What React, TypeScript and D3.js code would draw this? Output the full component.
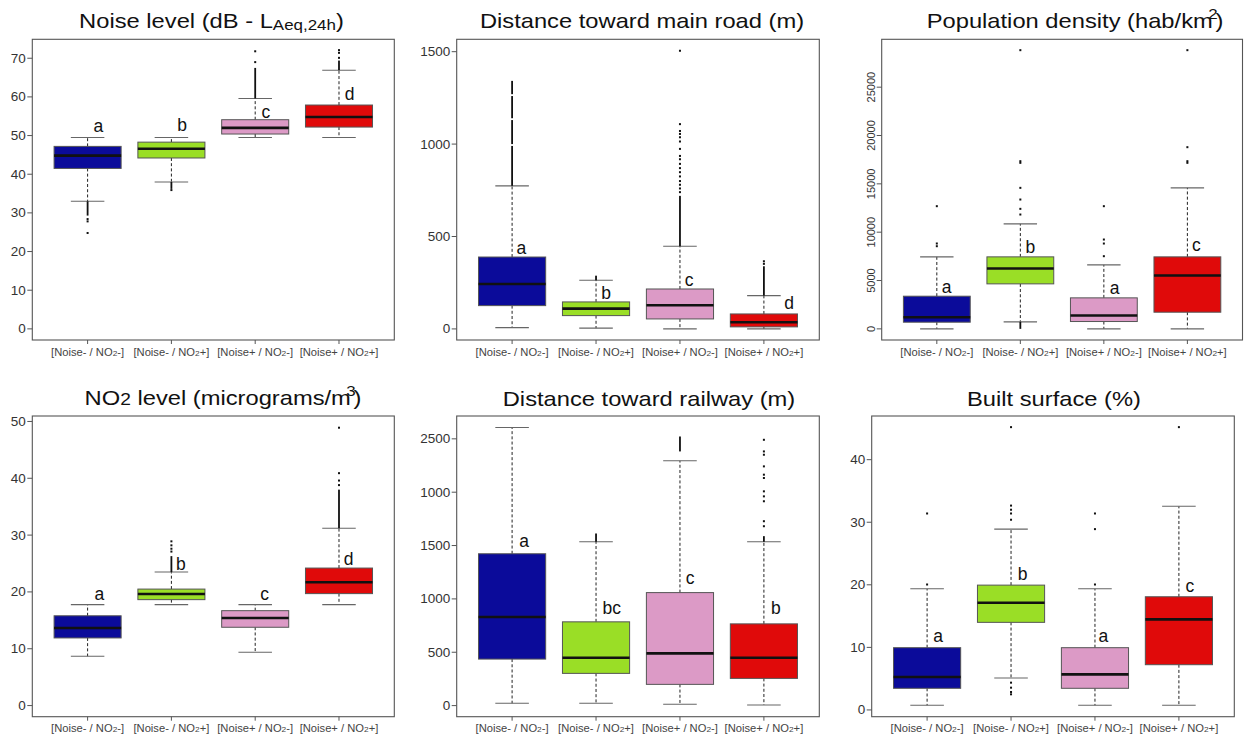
import React from "react";
import * as d3 from "d3";

// ---------- DATA ----------
const groups = ["[Noise- / NO2-]", "[Noise- / NO2+]", "[Noise+ / NO2-]", "[Noise+ / NO2+]"];
const groupColors = ["#0b0b9a", "#9ade26", "#dc9ac6", "#e00a0a"];

// stats per group: [lower whisker, Q1, median, Q3, upper whisker]
const noiseStats = [
  [33.0, 41.5, 44.8, 47.2, 49.5],
  [38.0, 44.2, 46.6, 48.3, 49.5],
  [49.5, 50.4, 52.0, 54.1, 59.6],
  [49.5, 52.2, 54.8, 57.9, 66.9],
];
const noiseOutliers = [[28.4, 27.8, 24.8], [35.9], [69.0, 71.8], [70.1, 71.4, 72.1]];
const noiseOutlierRuns = [[[29.3, 33.0]], [[36.2, 38.0]], [[59.6, 67.5]], [[66.9, 69.4]]];
const noiseLetters = ["a", "b", "c", "d"];
const noiseLetterY = [52.6, 52.8, 56.1, 60.8];
const noiseTicks = [0, 10, 20, 30, 40, 50, 60, 70];

const roadStats = [
  [7, 126, 243, 389, 774],
  [4, 72, 110, 146, 263],
  [0, 54, 128, 216, 447],
  [0, 11, 36, 81, 180],
];
const roadOutliers = [
  [],
  [],
  [1505, 1108, 1071, 1055, 1037, 1014, 974, 936, 918, 893, 870, 848, 825, 800, 780, 760, 740],
  [352, 366],
];
const roadOutlierRuns = [
  [[774, 990], [1000, 1130], [1140, 1260], [1270, 1342]],
  [[263, 288]],
  [[447, 720]],
  [[180, 339]],
];
const roadLetters = ["a", "b", "c", "d"];
const roadLetterY = [438, 194, 267, 140];
const roadTicks = [0, 500, 1000, 1500];

const popStats = [
  [0, 690, 1207, 3379, 7448],
  [724, 4655, 6241, 7448, 10862],
  [0, 759, 1379, 3207, 6621],
  [0, 1724, 5517, 7448, 14586],
];
const popOutliers = [
  [8550, 8830, 12690],
  [11828, 12414, 13379, 14586, 17172, 17345, 28828],
  [7517, 8828, 9241, 12690],
  [17172, 17345, 18793, 28828],
];
const popOutlierRuns = [[], [[0, 724]], [], []];
const popLetters = ["a", "b", "a", "c"];
const popLetterY = [4345, 8483, 4241, 8655];
const popTicks = [0, 5000, 10000, 15000, 20000, 25000];

const no2Stats = [
  [8.68, 11.9, 13.66, 15.8, 17.76],
  [17.76, 18.64, 19.64, 20.5, 23.5],
  [9.38, 13.78, 15.42, 16.7, 17.76],
  [17.76, 19.7, 21.7, 24.2, 31.2],
];
const no2Outliers = [[], [27.1, 27.6, 28.2, 28.9], [], [38.8, 39.6, 40.9, 48.9]];
const no2OutlierRuns = [[], [[23.5, 26.3]], [], [[31.2, 38.0]]];
const no2Letters = ["a", "b", "c", "d"];
const no2LetterY = [19.7, 24.9, 19.6, 25.85];
const no2Ticks = [0, 10, 20, 30, 40, 50];

const railStats = [
  [22, 436, 831, 1423, 2606],
  [22, 302, 448, 785, 1535],
  [12, 199, 489, 1059, 2295],
  [6, 255, 448, 766, 1535],
];
const railOutliers = [
  [],
  [],
  [],
  [1681, 1728, 1915, 1961, 2008, 2133, 2164, 2242, 2351, 2382, 2491],
];
const railOutlierRuns = [[], [[1535, 1613]], [[2382, 2522]], [[1535, 1588]]];
const railLetters = ["a", "bc", "c", "b"];
const railLetterY = [1541, 918, 1199, 918];
const railTicks = [0, 500, 1000, 1500, 2000, 2500];
const railTickLabels = ["0", "500", "1000", "1500", "1000", "2500"];

const builtStats = [
  [0.74, 3.46, 5.27, 9.95, 19.36],
  [5.1, 14.0, 17.13, 19.95, 28.9],
  [0.74, 3.46, 5.69, 9.95, 19.36],
  [0.74, 7.23, 14.47, 18.09, 32.55],
];
const builtOutliers = [
  [20.05, 31.4],
  [30.4, 31.4, 32.0, 32.66, 45.2, 4.36, 3.56, 2.87, 2.5],
  [20.05, 28.9, 31.4],
  [45.2],
];
const builtOutlierRuns = [[], [], [], []];
const builtLetters = ["a", "b", "a", "c"];
const builtLetterY = [11.8, 21.76, 11.8, 19.9];
const builtTicks = [0, 10, 20, 30, 40];

// ---------- PANELS ----------
type Seg = { t: string; size?: number; dy?: number; dx?: number };
const panels = [
  {
    title: [{ t: "Noise level (dB - L" }, { t: "Aeq,24h", size: 15, dy: 2 }, { t: ")", dy: -2 }] as Seg[],
    domain: [-2.88, 74.9], stats: noiseStats, outliers: noiseOutliers, runs: noiseOutlierRuns,
    letters: noiseLetters, letterY: noiseLetterY, letterDx: [0.127, 0.127, 0.127, 0.127],
    ticks: noiseTicks, tickLabels: null as string[] | null, rotate: false,
  },
  {
    title: [{ t: "Distance toward main road (m)" }] as Seg[],
    domain: [-60, 1567], stats: roadStats, outliers: roadOutliers, runs: roadOutlierRuns,
    letters: roadLetters, letterY: roadLetterY, letterDx: [0.11, 0.12, 0.11, 0.3],
    ticks: roadTicks, tickLabels: null, rotate: false,
  },
  {
    title: [{ t: "Population density (hab/km" }, { t: "2", size: 15, dy: -9, dx: -4 }, { t: ")", dy: 9, dx: -2 }] as Seg[],
    domain: [-1152, 29952], stats: popStats, outliers: popOutliers, runs: popOutlierRuns,
    letters: popLetters, letterY: popLetterY, letterDx: [0.116, 0.12, 0.128, 0.108],
    ticks: popTicks, tickLabels: null, rotate: true,
  },
  {
    title: [{ t: "NO" }, { t: "2", size: 17 }, { t: " level (micrograms/m" }, { t: "3", size: 15, dy: -9, dx: -4 }, { t: ")", dy: 9, dx: -2 }] as Seg[],
    domain: [-1.96, 50.96], stats: no2Stats, outliers: no2Outliers, runs: no2OutlierRuns,
    letters: no2Letters, letterY: no2LetterY, letterDx: [0.14, 0.112, 0.112, 0.116],
    ticks: no2Ticks, tickLabels: null, rotate: false,
  },
  {
    title: [{ t: "Distance toward railway (m)" }] as Seg[],
    domain: [-104, 2714], stats: railStats, outliers: railOutliers, runs: railOutlierRuns,
    letters: railLetters, letterY: railLetterY, letterDx: [0.143, 0.187, 0.12, 0.143],
    ticks: railTicks, tickLabels: railTickLabels, rotate: false,
  },
  {
    title: [{ t: "Built surface (%)" }] as Seg[],
    domain: [-1.08, 46.98], stats: builtStats, outliers: builtOutliers, runs: builtOutlierRuns,
    letters: builtLetters, letterY: builtLetterY, letterDx: [0.131, 0.139, 0.1, 0.131],
    ticks: builtTicks, tickLabels: null, rotate: false,
  },
];

// layout (pixels)
const layout = [
  { l: 32.3, r: 394.3, t: 39.3, b: 340, titleX: 211.5, titleY: 27.5, xlabY: 355.5 },
  { l: 456.7, r: 819.3, t: 39.3, b: 340, titleX: 642, titleY: 27.5, xlabY: 355.5 },
  { l: 881.7, r: 1242.5, t: 39.3, b: 340, titleX: 1075, titleY: 27.5, xlabY: 355.5 },
  { l: 32.3, r: 394.3, t: 416, b: 716.7, titleX: 223, titleY: 404.5, xlabY: 731.8 },
  { l: 456.7, r: 819.3, t: 416, b: 716.7, titleX: 649, titleY: 405.5, xlabY: 731.8 },
  { l: 871.7, r: 1234.3, t: 416, b: 716.7, titleX: 1054, titleY: 405.5, xlabY: 731.8 },
];

const FONT = "'Liberation Sans', Arial, sans-serif";

function GroupLabel({ label }: { label: string }) {
  const i = label.indexOf("NO2");
  const before = label.slice(0, i + 2);
  const after = label.slice(i + 3);
  return (
    <>
      <tspan>{before}</tspan>
      <tspan fontSize={7.5}>2</tspan>
      <tspan>{after}</tspan>
    </>
  );
}

function Panel({ p, L }: { p: (typeof panels)[number]; L: (typeof layout)[number] }) {
  const x = d3.scaleLinear().domain([0.34, 4.66]).range([L.l, L.r]);
  const y = d3.scaleLinear().domain(p.domain).range([L.b, L.t]);
  const bw = x(1.8) - x(1.0);
  const cw = x(1.2) - x(1.0);
  return (
    <g>
      <g transform={`translate(${L.titleX},${L.titleY}) scale(1.13,1)`}>
        <text textAnchor="middle" fontSize={21} fontFamily={FONT} fill="#111">
          {p.title.map((s, i) => (
            <tspan key={i} fontSize={s.size ?? 21} dy={s.dy ?? 0} dx={s.dx ?? 0}>
              {s.t}
            </tspan>
          ))}
        </text>
      </g>
      {p.stats.map((s, gi) => {
        const cx = x(gi + 1);
        const [lo, q1, md, q3, hi] = s;
        return (
          <g key={gi}>
            <line x1={cx} x2={cx} y1={y(q3)} y2={y(hi)} stroke="#222" strokeWidth={1} strokeDasharray="3 2.2" />
            <line x1={cx} x2={cx} y1={y(q1)} y2={y(lo)} stroke="#222" strokeWidth={1} strokeDasharray="3 2.2" />
            <line x1={cx - cw} x2={cx + cw} y1={y(hi)} y2={y(hi)} stroke="#666" strokeWidth={1.1} />
            <line x1={cx - cw} x2={cx + cw} y1={y(lo)} y2={y(lo)} stroke="#666" strokeWidth={1.1} />
            <rect x={cx - bw / 2} y={y(q3)} width={bw} height={y(q1) - y(q3)} fill={groupColors[gi]} stroke="#555" strokeWidth={1} />
            <line x1={cx - bw / 2} x2={cx + bw / 2} y1={y(md)} y2={y(md)} stroke="#111" strokeWidth={2.6} />
            {p.runs[gi].map((r, ri) => (
              <rect key={ri} x={cx - 0.9} width={1.8} y={y(r[1])} height={Math.max(1.5, y(r[0]) - y(r[1]))} fill="#111" />
            ))}
            {p.outliers[gi].map((v, oi) => (
              <rect key={oi} x={cx - 1} y={y(v) - 1} width={2} height={2} fill="#111" />
            ))}
            <text
              x={x(gi + 1 + p.letterDx[gi])}
              y={y(p.letterY[gi])}
              dy="0.35em"
              textAnchor="middle"
              fontSize={17.5}
              fontFamily={FONT}
              fill="#111"
            >
              {p.letters[gi]}
            </text>
          </g>
        );
      })}
      <rect x={L.l} y={L.t} width={L.r - L.l} height={L.b - L.t} fill="none" stroke="#555" strokeWidth={1.1} />
      {p.ticks.map((t, i) => (
        <g key={i}>
          <line x1={L.l - 5} x2={L.l} y1={y(t)} y2={y(t)} stroke="#555" />
          {p.rotate ? (
            <g transform={`translate(${L.l - 10.5},${y(t)}) rotate(-90)`}>
              <text textAnchor="middle" dy="0.36em" fontSize={11} fontFamily={FONT} fill="#333">
                {String(t)}
              </text>
            </g>
          ) : (
            <g transform={`translate(${L.l - 6.5},${y(t)}) scale(1.08,1)`}>
              <text textAnchor="end" dy="0.36em" fontSize={12.5} fontFamily={FONT} fill="#333">
                {p.tickLabels ? p.tickLabels[i] : String(t)}
              </text>
            </g>
          )}
        </g>
      ))}
      {groups.map((g, gi) => (
        <g key={gi}>
          <line x1={x(gi + 1)} x2={x(gi + 1)} y1={L.b} y2={L.b + 4} stroke="#555" />
          <g transform={`translate(${x(gi + 1)},${L.xlabY}) scale(1.12,1)`}>
            <text textAnchor="middle" fontSize={10} fontFamily={FONT} fill="#444">
              <GroupLabel label={g} />
            </text>
          </g>
        </g>
      ))}
    </g>
  );
}

export default function App() {
  return (
    <svg
      width={1244}
      height={738}
      style={{ position: "absolute", left: 0, top: 0, background: "#fff" }}
    >
      <rect x={0} y={0} width={1244} height={738} fill="#fff" />
      {panels.map((p, i) => (
        <Panel key={i} p={p} L={layout[i]} />
      ))}
    </svg>
  );
}
